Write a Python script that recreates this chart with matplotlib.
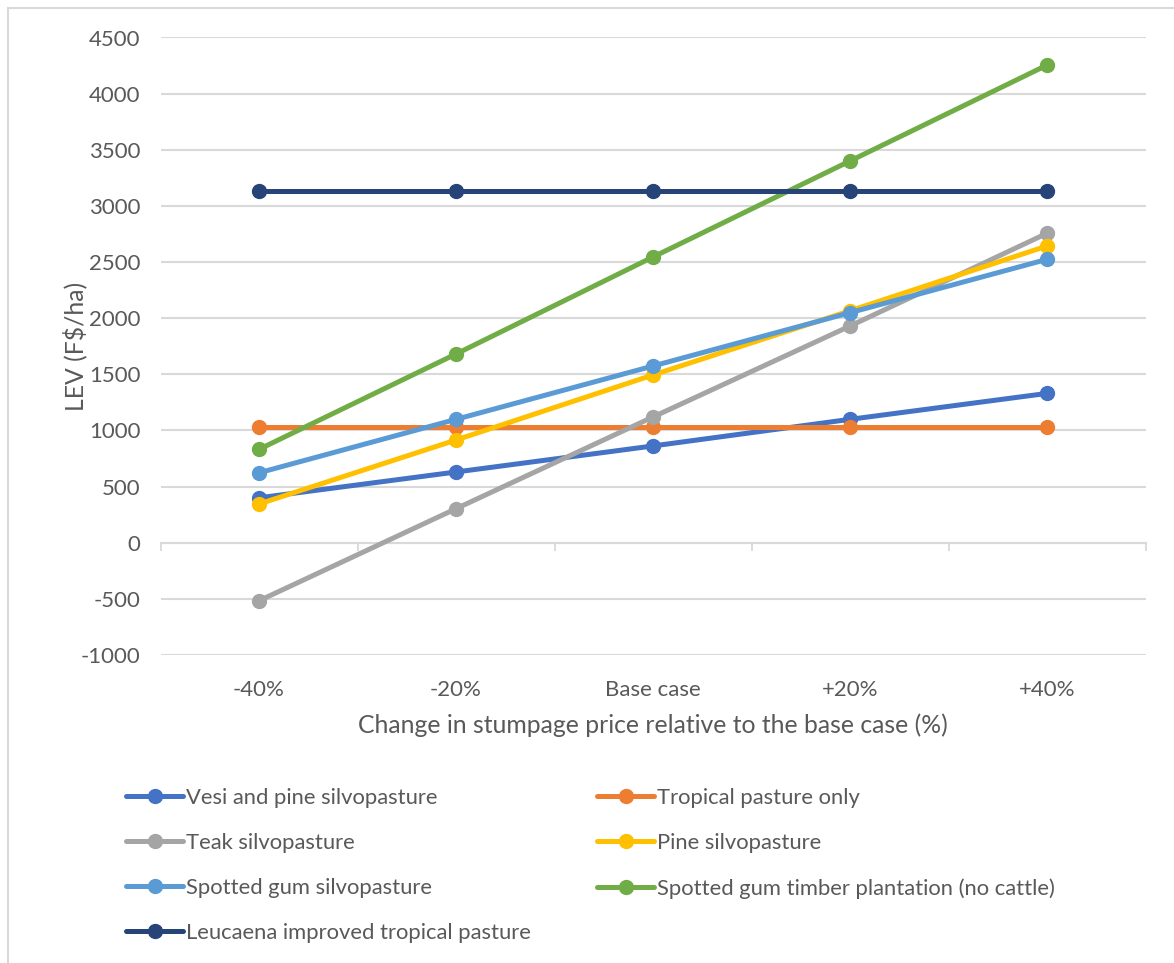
import matplotlib
matplotlib.use("Agg")
import matplotlib.pyplot as plt
from matplotlib.lines import Line2D

# Scenario categories (change in stumpage price)
categories = ["-40%", "-20%", "Base case", "+20%", "+40%"]

# LEV (F$/ha) per land-use scenario
vesi_pine_silvo = [400, 630, 862, 1099, 1330]
tropical_pasture = [1030, 1030, 1030, 1030, 1030]
teak_silvo = [-517, 303, 1120, 1930, 2756]
pine_silvo = [345, 915, 1494, 2066, 2643]
spotted_gum_silvo = [623, 1099, 1574, 2049, 2524]
spotted_gum_timber = [832, 1681, 2545, 3400, 4254]
leucaena_pasture = [3132, 3132, 3132, 3132, 3132]

series_names = [
    "Vesi and pine silvopasture",
    "Tropical pasture only",
    "Teak silvopasture",
    "Pine silvopasture",
    "Spotted gum silvopasture",
    "Spotted gum timber plantation (no cattle)",
    "Leucaena improved tropical pasture",
]
series_values = [vesi_pine_silvo, tropical_pasture, teak_silvo, pine_silvo,
                 spotted_gum_silvo, spotted_gum_timber, leucaena_pasture]
series_colors = ["#4472C4", "#ED7D31", "#A5A5A5", "#FFC000",
                 "#5B9BD5", "#70AD47", "#264478"]

y_ticks = list(range(-1000, 5000, 500))

TEXT = "#595959"
GRID = "#D9D9D9"
plt.rcParams["font.family"] = ["Lato", "DejaVu Sans"]
FS_TICK = 16
FS_LABEL = 17.8
FS_LEG = 15.8

W, H = 1174, 963
fig = plt.figure(figsize=(W / 100, H / 100), dpi=100)

# outer chart frame (left and top edges)
fig.add_artist(Line2D([8 / W, 8 / W], [0, 1 - 8 / H], color=GRID, lw=1.5))
fig.add_artist(Line2D([8 / W, 1], [1 - 8 / H, 1 - 8 / H], color=GRID, lw=1.5))

left, right = 160.5 / W, 1145.5 / W
top, bottom = 1 - 37.5 / H, 1 - 655 / H
ax = fig.add_axes([left, bottom, right - left, top - bottom])

x = list(range(len(categories)))
handles = []
for name, vals, col in zip(series_names, series_values, series_colors):
    h, = ax.plot(x, vals, color=col, lw=3.6, marker="o", markersize=10,
                 solid_capstyle="round", label=name, zorder=3)
    handles.append(h)

ax.set_xlim(-0.5, len(categories) - 0.5)
ax.set_ylim(-1000, 4500)
ax.set_yticks(y_ticks)
ax.set_yticklabels([str(v) for v in y_ticks])
ax.yaxis.grid(True, color=GRID, lw=1.5)
ax.set_axisbelow(True)
for s in ax.spines.values():
    s.set_visible(False)

ax.set_xticks(x)
ax.set_xticklabels(categories)
ax.tick_params(axis="x", length=0, pad=18, labelsize=FS_TICK, labelcolor=TEXT)
ax.tick_params(axis="y", length=0, pad=14.5, labelsize=FS_TICK, labelcolor=TEXT)

# category axis line at zero with boundary tick marks
zero_frac = (0 - (-1000)) / (4500 - (-1000))
sec = ax.secondary_xaxis(zero_frac)
sec.set_xticks([i - 0.5 for i in range(len(categories) + 1)])
sec.set_xticklabels([])
sec.tick_params(axis="x", direction="out", length=6, width=1.3, color=GRID)
sec.spines["bottom"].set_color(GRID)
sec.spines["bottom"].set_linewidth(1.5)

ax.set_xlabel("Change in stumpage price relative to the base case (%)",
              fontsize=FS_LABEL, color=TEXT, va="center")
ax.xaxis.set_label_coords(0.5, -0.1134)
ax.set_ylabel("LEV (F$/ha)", fontsize=FS_LABEL, color=TEXT, va="center")
ax.yaxis.set_label_coords(-0.0868, 0.5)

# two-column legend laid out row by row
col1 = [0, 2, 4, 6]
col2 = [1, 3, 5]
leg_kw = dict(frameon=False, fontsize=FS_LEG, labelcolor=TEXT,
              handlelength=2.6, handletextpad=0.12, labelspacing=1.14,
              borderpad=0, borderaxespad=0, loc="upper left")
fig.legend([handles[i] for i in col1], [series_names[i] for i in col1],
           bbox_to_anchor=(126 / W, 1 - 788 / H), **leg_kw)
fig.legend([handles[i] for i in col2], [series_names[i] for i in col2],
           bbox_to_anchor=(597 / W, 1 - 788 / H), **leg_kw)

fig.savefig("out.png", dpi=100, facecolor="white")
